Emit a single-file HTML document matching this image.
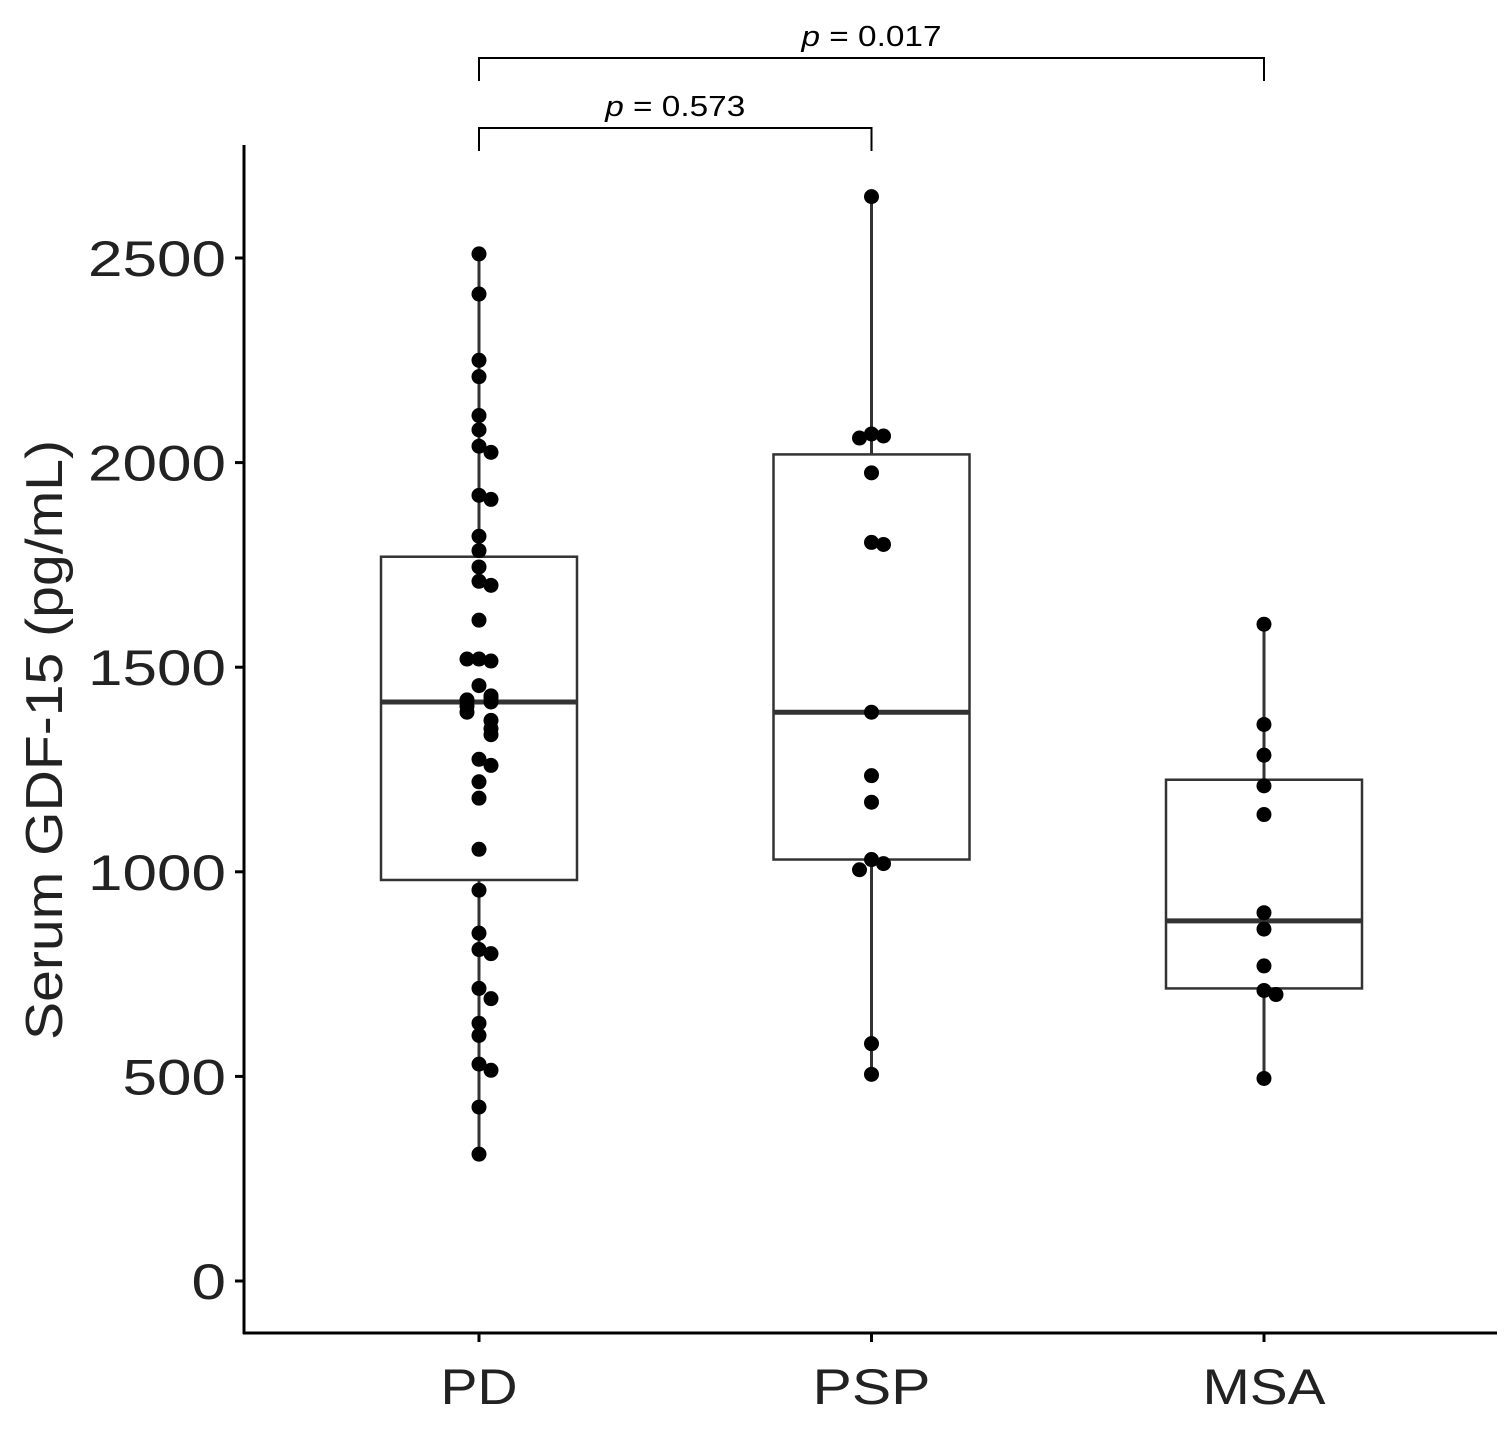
<!DOCTYPE html>
<html><head><meta charset="utf-8"><style>
body{margin:0;background:#fff}
text{font-family:"Liberation Sans",Arial,sans-serif}
</style></head><body>
<svg id="chart" width="1511" height="1424" xmlns="http://www.w3.org/2000/svg">
<g id="g"></g>
</svg>
<script>
const categories=["PD","PSP","MSA"];
const pdValues=[2510,2412,2250,2210,2115,2080,2040,2025,1920,1910,1820,1785,1745,1710,1700,1615,1520,1515,1520,1455,1430,1425,1420,1415,1405,1390,1370,1350,1335,1275,1260,1220,1180,1055,955,850,810,800,715,690,630,600,530,515,425,310];
const pspValues=[2650,2070,2065,2060,1975,1805,1800,1390,1235,1170,1030,1020,1005,580,505];
const msaValues=[1605,1360,1285,1210,1140,900,860,770,710,700,495];
const q1=[980,1030,715];
const medians=[1415,1390,880];
const q3=[1770,2020,1225];
const whiskLo=[310,505,495];
const whiskHi=[2510,2650,1605];
const yTicks=[0,500,1000,1500,2000,2500];
const pLabels=["0.573","0.017"];
const NS="http://www.w3.org/2000/svg";
const g=document.getElementById('g');
const y=v=>1281-v*0.4092;
const x=i=>479+i*392.5;
function el(t,a,txt){const e=document.createElementNS(NS,t);for(const k in a)e.setAttribute(k,a[k]);if(txt!==undefined)e.textContent=txt;g.appendChild(e);return e;}
let e=el('line',{x1:244,y1:145,x2:244,y2:1334,stroke:'#000','stroke-width':3});


e=el('line',{x1:243,y1:1333,x2:1497,y2:1333,stroke:'#000','stroke-width':3});


yTicks.forEach(t=>{
 let l=el('line',{x1:235,y1:y(t),x2:244,y2:y(t),stroke:'#000','stroke-width':3});
 
 
 const s=String(t);
 let tx=el('text',{x:226,y:y(t)+18,'text-anchor':'end','font-size':50,fill:'#222',textLength:s.length*34.5,lengthAdjust:'spacingAndGlyphs'},s);
 
 
});
e=el('text',{transform:'translate(62,740) rotate(-90)','text-anchor':'middle','font-size':52,fill:'#222',textLength:600,lengthAdjust:'spacingAndGlyphs'},'Serum GDF-15 (pg/mL)');


const series=[pdValues,pspValues,msaValues];
const xw={PD:77,PSP:118,MSA:123};
categories.forEach((c,i)=>{
 const cx=x(i);
 let l=el('line',{x1:cx,y1:1333,x2:cx,y2:1342,stroke:'#000','stroke-width':3});
 
 
 let t=el('text',{x:cx,y:1404,'text-anchor':'middle','font-size':50,fill:'#222',textLength:xw[c],lengthAdjust:'spacingAndGlyphs'},c);
 
 
 let w=el('line',{x1:cx,y1:y(whiskHi[i]),x2:cx,y2:y(whiskLo[i]),stroke:'#333','stroke-width':3});
 
 
 let b=el('rect',{x:cx-98,y:y(q3[i]),width:196,height:y(q1[i])-y(q3[i]),fill:'#fff',stroke:'#333','stroke-width':2.5});
 
 
 let m=el('line',{x1:cx-98,y1:y(medians[i]),x2:cx+98,y2:y(medians[i]),stroke:'#333','stroke-width':5});
 
 
 const placed=[];
 series[i].forEach(v=>{
  const py=y(v);let off=0;
  const near=placed.filter(p=>Math.abs(p-py)<12).length;
  if(near%2===1)off=12;else if(near>0)off=-12;
  placed.push(py);
  let d=el('circle',{cx:cx+off,cy:py,r:7.5,fill:'#000'});
  
  
 });
});
function bracket(i,j,yy,lab,name){
 let p=el('path',{d:`M${x(i)},${yy+23}V${yy}H${x(j)}V${yy+23}`,fill:'none',stroke:'#000','stroke-width':2});
 
 
 let t=el('text',{x:(x(i)+x(j))/2,y:yy-12,'text-anchor':'middle','font-size':29,fill:'#000',textLength:140,lengthAdjust:'spacingAndGlyphs'});
 
 
 const s=document.createElementNS(NS,'tspan');s.setAttribute('font-style','italic');s.textContent='p';t.appendChild(s);
 t.appendChild(document.createTextNode(' = '+lab));
}
bracket(0,1,128,pLabels[0],'bracket-pd-psp');
bracket(0,2,58,pLabels[1],'bracket-pd-msa');
</script>
</body></html>
